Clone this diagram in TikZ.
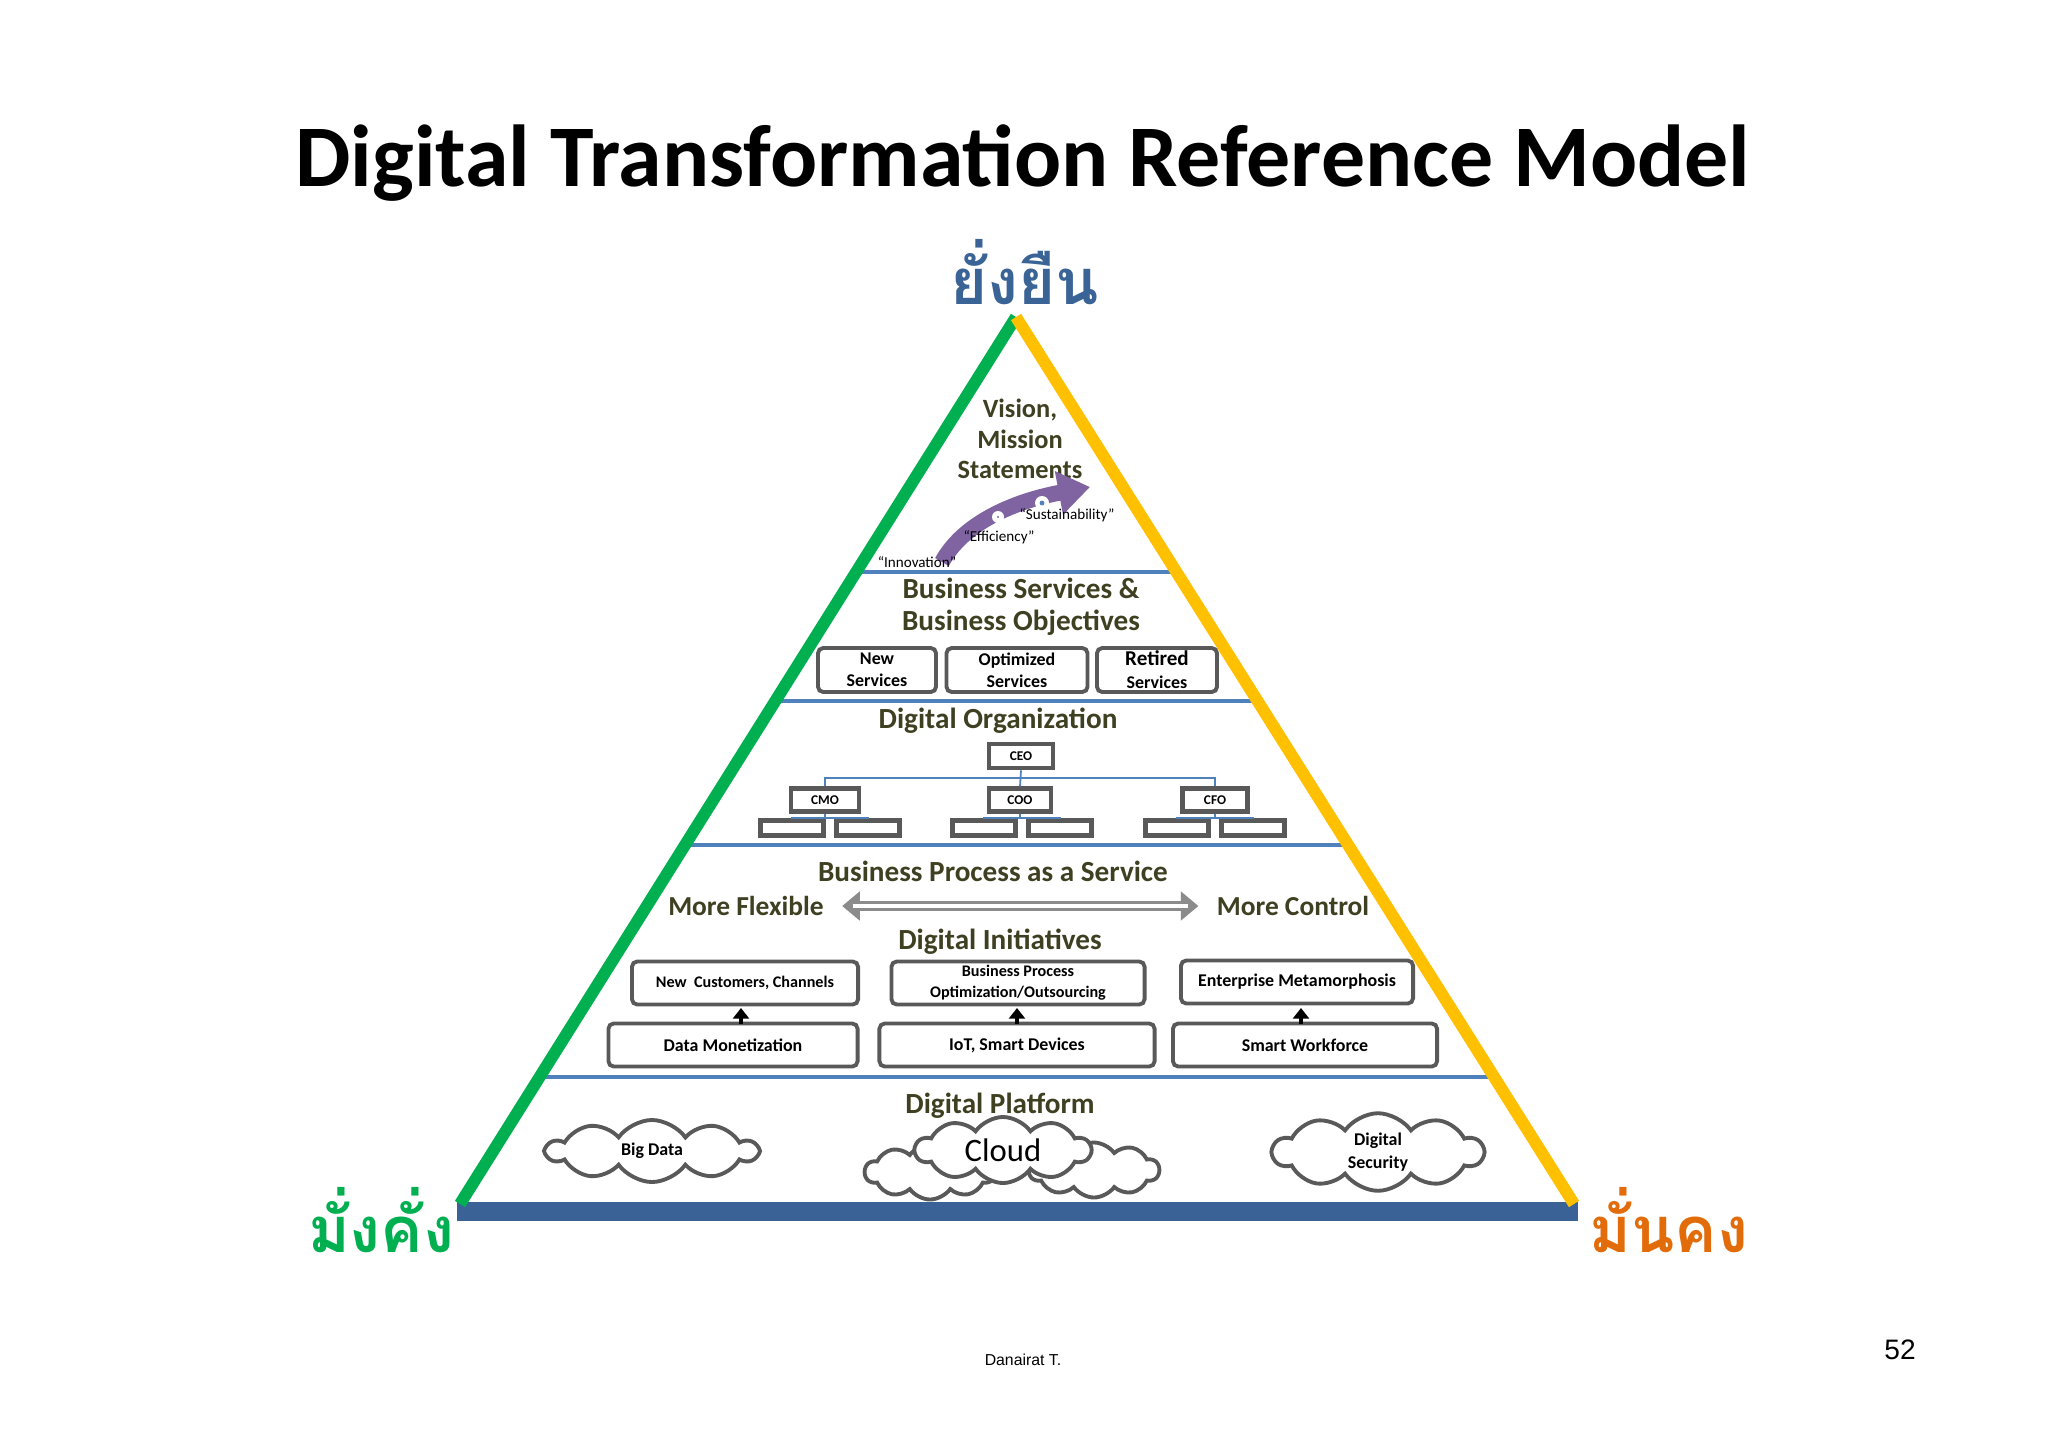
\documentclass[tikz,border=0pt]{standalone}
\usepackage{fontspec}
\setmainfont{Carlito}
\newfontfamily\thaifont[Script=Thai]{Loma}
\newfontfamily\arialf{Liberation Sans}
\usetikzlibrary{arrows.meta,shapes.symbols,calc}
\definecolor{olive}{HTML}{3F3F22}
\definecolor{sepblue}{HTML}{4F81BD}
\definecolor{basebl}{HTML}{3A6296}
\definecolor{tgreen}{HTML}{00B050}
\definecolor{tyellow}{HTML}{FFC000}
\definecolor{torange}{HTML}{E36C0A}
\definecolor{tblue}{HTML}{3B6496}
\definecolor{bxgray}{HTML}{595959}
\definecolor{purp}{HTML}{8064A2}
\newcommand\fsz[2]{\fontsize{#1}{#2}\selectfont}
\begin{document}
\begin{tikzpicture}[x=0.01cm,y=-0.01cm,
  layer/.style={text=olive,font=\bfseries\fsz{8.3pt}{10pt},align=center},
  sep/.style={draw=sepblue,line width=1.4pt},
  box/.style={draw=bxgray,line width=1.1pt,rounded corners=1.5pt,fill=white,align=center,font=\bfseries\fsz{5.1pt}{6.2pt},inner sep=0pt},
  org/.style={draw=bxgray,line width=1.3pt,fill=white,font=\bfseries\fsz{3.8pt}{4.5pt},inner sep=0pt},
  orgl/.style={draw=sepblue,line width=0.5pt},
  upar/.style={-{Triangle[length=3pt,width=4.5pt]},line width=1.3pt,black},
  cld/.style={cloud,cloud puffs=10,cloud puff arc=110,aspect=3,draw=bxgray,line width=1.1pt,fill=white,inner sep=0pt,align=center,font=\bfseries\fsz{5.1pt}{6.5pt}}
]
\useasboundingbox (0,0) rectangle (2048,1448);
\fill[white] (0,0) rectangle (2048,1448);
\node[font=\bfseries\fsz{25pt}{30pt}] (title) at (1023,163) {Digital Transformation Reference Model};

% separators
\draw[sep] (855,572) -- (1177,572);
\draw[sep] (775,701) -- (1258,701);
\draw[sep] (685,845) -- (1349,845);
\draw[sep] (539,1077) -- (1494,1077);

% base
\fill[basebl] (457,1202) rectangle (1578,1221);
% triangle sides
\coordinate (apex) at (1016,317);
\coordinate (bl) at (460,1204);
\coordinate (br) at (1574,1204);
\draw[tgreen,line width=3.4pt] (apex) -- (bl);
\draw[tyellow,line width=3.4pt] (apex) -- (br);

% Thai labels
\node[text=tblue,font=\thaifont\bfseries\fsz{18pt}{22pt}] (t1) at (1025,272) {ยั่งยืน};
\node[text=tgreen,font=\thaifont\bfseries\fsz{18pt}{22pt}] (t2) at (381,1220) {มั่งคั่ง};
\node[text=torange,font=\thaifont\bfseries\fsz{18pt}{22pt}] (t3) at (1669,1220) {มั่นคง};

% vision
\node[layer,font=\bfseries\fsz{7.5pt}{8.6pt}] (vis) at (1020,439) {Vision,\\Mission\\Statements};
\draw[purp,line width=4.5pt,-{Triangle[length=9pt,width=12pt]}] (942,562) .. controls (962,525) and (1010,502) .. (1090,487);
\fill[white] (998,517) circle (6);
\fill[white] (1042,503) circle (7);
\fill[sepblue] (1042,503) circle (2.4);
\fill[purp] (998,517) circle (1.2);
\node[font=\fsz{4.3pt}{5pt}] (inn) at (917,562) {``Innovation''};
\node[font=\fsz{4.3pt}{5pt}] (eff) at (999,537) {``Efficiency''};
\node[font=\fsz{4.3pt}{5pt}] (sus) at (1067,515) {``Sustainability''};

% business services
\node[layer] (bs) at (1021,607) {Business Services \&\\[-1pt]Business Objectives};
\node[box,minimum width=1.18cm,minimum height=0.44cm] (ns) at (877,670) {New\\Services};
\node[box,minimum width=1.41cm,minimum height=0.44cm] (os) at (1017,670) {Optimized\\Services};
\node[box,minimum width=1.20cm,minimum height=0.44cm,font=\bfseries\fsz{6pt}{6.5pt}] (rs) at (1157,670) {Retired\\{\fsz{5.1pt}{6pt}Services}};

% digital org
\node[layer] (dor) at (998,721) {Digital Organization};
\node[org,minimum width=0.64cm,minimum height=0.24cm] (ceo) at (1021,756) {CEO};
\node[org,minimum width=0.68cm,minimum height=0.23cm] (cmo) at (825,800) {CMO};
\node[org,minimum width=0.62cm,minimum height=0.23cm] (coo) at (1020,800) {COO};
\node[org,minimum width=0.65cm,minimum height=0.23cm] (cfo) at (1215,800) {CFO};
\foreach \n/\x in {a/792,b/868,c/984,d/1060,e/1177,f/1253}
  \node[org,minimum width=0.63cm,minimum height=0.15cm] (s\n) at (\x,828) {};
\draw[orgl] (ceo.south) -- (coo.north);
\draw[orgl] (cmo.north) |- (1021,778) -| (cfo.north);
\foreach \p/\l/\r in {cmo/a/b,coo/c/d,cfo/e/f}{
  \draw[orgl] (\p.south) -- ++(0,4);
  \draw[orgl] (s\l.north) |- ($(\p.south)+(0,4)$) -| (s\r.north);
}

% BPaaS
\node[layer] (bp) at (993,871) {Business Process as a Service};
\node[layer,font=\bfseries\fsz{7.8pt}{9pt}] (mf) at (746,906) {More Flexible};
\node[layer,font=\bfseries\fsz{7.8pt}{9pt}] (mc) at (1293,906) {More Control};
\coordinate (fa) at ($(mf.east)+(6,0)$);
\coordinate (fb) at ($(mc.west)+(-6,0)$);
\draw[bxgray!70,line width=2.6pt,{Triangle[length=5pt,width=8pt]}-{Triangle[length=5pt,width=8pt]}] (fa) -- (fb);
\draw[white,line width=1.1pt,shorten <=3pt,shorten >=3pt] (fa) -- (fb);

% digital initiatives
\node[layer] (di) at (1000,942) {Digital Initiatives};
\node[box,minimum width=2.26cm,minimum height=0.43cm,font=\bfseries\fsz{4.6pt}{5.5pt}] (nc) at (745,983) {New\ \ Customers, Channels};
\node[box,minimum width=2.53cm,minimum height=0.43cm,font=\bfseries\fsz{4.6pt}{6pt}] (bpo) at (1018,983) {Business Process\\Optimization/Outsourcing};
\node[box,minimum width=2.32cm,minimum height=0.43cm] (em) at (1297,982) {Enterprise Metamorphosis};
\node[box,minimum width=2.49cm,minimum height=0.43cm] (dm) at (733,1045) {Data Monetization};
\node[box,minimum width=2.75cm,minimum height=0.43cm] (iot) at (1017,1045) {IoT, Smart Devices};
\node[box,minimum width=2.64cm,minimum height=0.43cm] (sw) at (1305,1045) {Smart Workforce};
\draw[upar] (741,1024) -- (741,1008);
\draw[upar] (1017,1024) -- (1017,1008);
\draw[upar] (1301,1024) -- (1301,1008);

% digital platform
\node[layer] (dp) at (1000,1106) {Digital Platform};
\node[cld,minimum width=2.1cm,minimum height=0.62cm] (bd) at (652,1151) {Big Data};
\node[cld,minimum width=1.3cm,minimum height=0.55cm] (c1) at (930,1172) {};
\node[cld,minimum width=1.3cm,minimum height=0.55cm] (c2) at (1094,1170) {};
\node[cld,minimum width=1.75cm,minimum height=0.66cm,font=\fsz{9.3pt}{10pt}] (cl) at (1003,1150) {Cloud};
\node[cld,minimum width=2.1cm,minimum height=0.62cm] (ds) at (1378,1152) {Digital\\Security};

\node[font=\arialf\fsz{4.5pt}{5pt}] (auth) at (1023,1360) {Danairat T.};
\node[font=\arialf\fsz{8pt}{9pt}] (pg) at (1900,1350) {52};
\end{tikzpicture}
\end{document}
